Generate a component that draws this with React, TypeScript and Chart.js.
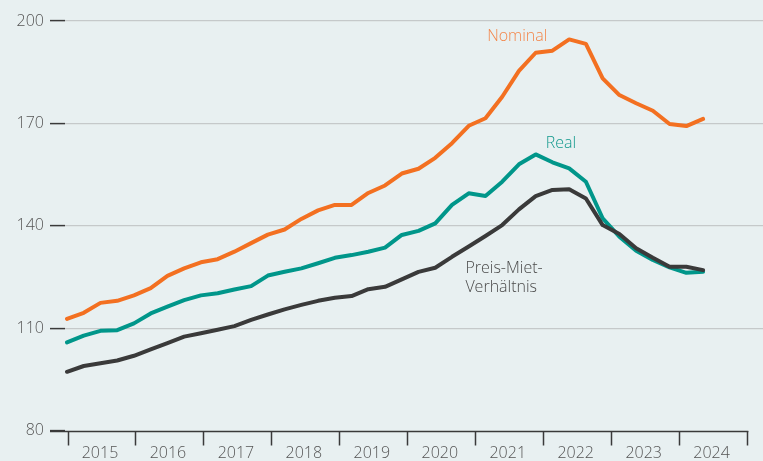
import React, { useEffect, useRef } from "react";
import { Chart, registerables } from "chart.js";

Chart.register(...registerables);

const YEARS = ["2015", "2016", "2017", "2018", "2019", "2020", "2021", "2022", "2023", "2024"];
const Y_TICKS = [80, 110, 140, 170, 200];

const NOMINAL = [112.7, 114.5, 117.4, 118.0, 119.6, 121.7, 125.3, 127.5, 129.3, 130.2, 132.4, 134.9, 137.4, 138.9, 142.0, 144.5, 146.1, 146.1, 149.6, 151.8, 155.3, 156.7, 159.9, 164.2, 169.3, 171.5, 177.8, 185.4, 190.7, 191.3, 194.6, 193.3, 183.2, 178.3, 175.9, 173.7, 169.8, 169.2, 171.3];
const REAL = [105.8, 107.8, 109.2, 109.4, 111.4, 114.3, 116.3, 118.2, 119.6, 120.2, 121.3, 122.3, 125.4, 126.5, 127.5, 129.0, 130.6, 131.4, 132.4, 133.6, 137.3, 138.5, 140.7, 146.1, 149.5, 148.7, 152.9, 158.0, 160.9, 158.6, 156.8, 152.9, 142.2, 136.8, 132.7, 130.0, 127.8, 126.2, 126.5];
const PMV = [97.2, 98.9, 99.7, 100.5, 101.9, 103.8, 105.6, 107.5, 108.5, 109.5, 110.6, 112.4, 114.0, 115.5, 116.8, 118.0, 118.9, 119.4, 121.4, 122.1, 124.3, 126.5, 127.7, 130.9, 133.9, 137.0, 140.2, 144.8, 148.7, 150.5, 150.7, 148.0, 140.2, 137.6, 133.4, 130.6, 128.0, 128.0, 127.0];

const LABELS = [
  { text: "Nominal", x: 25.1, y: 195.6, color: "#f3864a" },
  { text: "Real", x: 28.6, y: 164.0, color: "#13998d" },
  { text: "Preis-Miet-", x: 23.8, y: 127.6, color: "#4a4a4a" },
  { text: "Verhältnis", x: 23.8, y: 122.0, color: "#4a4a4a" },
];

// x axis in data-index units; year boundaries
const YEAR_START = 0.06;
const YEAR_SPAN = 4.06;

const ORANGE = "#f37021";
const TEAL = "#00968a";
const DARK = "#3a3a3a";
const GRID = "#c5c9ca";
const TICK = "#3a3a3a";
const TEXT = "#555555";
const BG = "#e8f0f1";
const FONT = "'Open Sans', 'Noto Sans', sans-serif";

export default function App() {
  const ref = useRef<HTMLCanvasElement | null>(null);

  useEffect(() => {
    if (!ref.current) return;
    const boundaries = YEARS.map((_, k) => YEAR_START + YEAR_SPAN * k).concat([YEAR_START + YEAR_SPAN * YEARS.length]);
    const tickVals: number[] = [];
    boundaries.forEach((b, k) => {
      tickVals.push(b);
      if (k < YEARS.length) tickVals.push(b + YEAR_SPAN / 2);
    });

    const mk = (arr: number[]) => arr.map((y, i) => ({ x: i, y }));

    const decor = {
      id: "decor",
      afterDatasetsDraw(chart: any) {
        const { ctx, scales } = chart;
        const xs = scales.x;
        const ys = scales.y;
        ctx.save();
        const y0 = Math.round(ys.getPixelForValue(Y_TICKS[0])) + 0.5;
        ctx.strokeStyle = TICK;
        ctx.lineWidth = 1.5;
        ctx.beginPath();
        ctx.moveTo(chart.chartArea.left - 15, y0);
        ctx.lineTo(xs.getPixelForValue(boundaries[boundaries.length - 1]) + 0.75, y0);
        ctx.stroke();
        ctx.font = `300 16px ${FONT}`;
        ctx.textAlign = "left";
        ctx.textBaseline = "middle";
        LABELS.forEach((l) => {
          ctx.fillStyle = l.color;
          ctx.fillText(l.text, xs.getPixelForValue(l.x), ys.getPixelForValue(l.y));
        });
        ctx.restore();
      },
    };

    const chart = new Chart(ref.current, {
      type: "line",
      data: {
        datasets: [
          { label: "Preis-Miet-Verhältnis", data: mk(PMV), borderColor: DARK, order: 0 },
          { label: "Real", data: mk(REAL), borderColor: TEAL, order: 1 },
          { label: "Nominal", data: mk(NOMINAL), borderColor: ORANGE, order: 2 },
        ].map((d) => ({
          ...d,
          borderWidth: 4,
          pointRadius: 0,
          tension: 0,
          fill: false,
          borderJoinStyle: "round" as const,
          borderCapStyle: "round" as const,
        })),
      },
      options: {
        animation: false,
        responsive: true,
        maintainAspectRatio: false,
        layout: { padding: { top: 21, left: 0, right: 0, bottom: 0 } },
        plugins: { legend: { display: false }, tooltip: { enabled: false } },
        scales: {
          x: {
            type: "linear",
            min: -0.12,
            max: 41.58,
            border: { display: false },
            grid: {
              drawOnChartArea: false,
              drawTicks: true,
              tickLength: 15,
              tickWidth: 1.5,
              tickColor: (c: any) => (c.index % 2 === 0 ? TICK : "rgba(0,0,0,0)"),
            },
            afterBuildTicks: (s: any) => {
              s.ticks = tickVals.map((v) => ({ value: v }));
            },
            afterFit: (s: any) => {
              s.height = 30.5;
            },
            ticks: {
              autoSkip: false,
              maxRotation: 0,
              padding: -2,
              labelOffset: -2,
              color: TEXT,
              font: { family: FONT, size: 16, weight: "300" },
              callback: (_v: any, i: number) => (i % 2 === 1 ? YEARS[(i - 1) / 2] : ""),
            },
          },
          y: {
            min: 80,
            max: 200,
            border: { display: false },
            afterBuildTicks: (s: any) => {
              s.ticks = Y_TICKS.map((v) => ({ value: v }));
            },
            afterFit: (s: any) => {
              s.width = 65;
            },
            grid: {
              color: (c: any) => (c.tick && c.tick.value === Y_TICKS[0] ? "rgba(0,0,0,0)" : GRID),
              lineWidth: 1.2,
              tickLength: 15,
              tickWidth: 1.5,
              tickColor: TICK,
            },
            ticks: {
              padding: 6,
              color: TEXT,
              font: { family: FONT, size: 16, weight: "300" },
            },
          },
        },
      },
      plugins: [decor],
    });
    return () => chart.destroy();
  }, []);

  return (
    <div style={{ position: "absolute", left: 0, top: 0, width: 763, height: 461, background: BG }}>
      <canvas ref={ref} />
    </div>
  );
}
